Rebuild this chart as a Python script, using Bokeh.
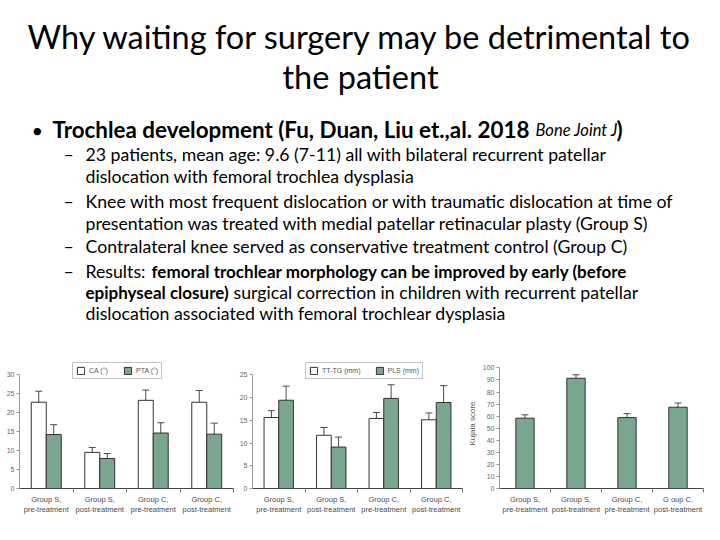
from bokeh.plotting import figure
from bokeh.layouts import column, row
from bokeh.models import (Range1d, FixedTicker, Whisker, TeeHead, Legend, LegendItem,
                          ColumnDataSource)
from bokeh.core.properties import value
from bokeh.embed import file_html
from bokeh.resources import INLINE
import numpy as np

# ---------------- data ----------------
categories = ["Group S,\npre-treatment", "Group S,\npost-treatment",
              "Group C,\npre-treatment", "Group C,\npost-treatment"]
categories3 = ["Group S,\npre-treatment", "Group S,\npost-treatment",
               "Group C,\npre-treatment", "G oup C,\npost-treatment"]

ca = [22.7, 9.5, 23.2, 22.7]
ca_err = [2.9, 1.3, 2.7, 3.1]
pta = [14.2, 7.9, 14.6, 14.3]
pta_err = [2.6, 1.3, 2.7, 2.9]

tttg = [15.6, 11.7, 15.4, 15.1]
tttg_err = [1.5, 1.7, 1.3, 1.5]
pls = [19.4, 9.1, 19.8, 18.9]
pls_err = [3.1, 2.2, 3.0, 3.7]

kujala = [58.3, 91.4, 58.8, 67.4]
kujala_err = [2.8, 2.9, 3.3, 3.5]

ticks1 = [0, 5, 10, 15, 20, 25, 30]
ticks2 = [0, 5, 10, 15, 20, 25]
ticks3 = [0, 10, 20, 30, 40, 50, 60, 70, 80, 90, 100]

title_lines = ["Why waiting for surgery may be detrimental to", "the patient"]

GREEN = "#7aa68f"
EDGE = "#333333"
ERR = "#4a4a4a"
FONT = "Liberation Sans"


def make_chart(width, bl, br, ytop, ybound, yticks, labels, series, bar_w,
               legend_labels=None, legend_x=53, ylabel=None):
    p = figure(width=width, height=179, x_range=Range1d(0, 4), y_range=Range1d(0, ytop),
               toolbar_location=None, output_backend="svg",
               min_border_left=bl, min_border_right=br, min_border_top=13,
               min_border_bottom=36)
    p.outline_line_color = None
    p.grid.visible = False
    idx = np.arange(len(labels)) + 0.5
    n = len(series)
    offsets = [(k - (n - 1) / 2) * bar_w for k in range(n)]
    renderers = []
    for k, (vals, errs, fill) in enumerate(series):
        xs = idx + offsets[k]
        src = ColumnDataSource(dict(x=xs, top=vals,
                                    up=[v + e for v, e in zip(vals, errs)],
                                    lo=[v - e for v, e in zip(vals, errs)]))
        r = p.vbar(x="x", top="top", width=bar_w, source=src, fill_color=fill,
                   line_color=EDGE, line_width=1)
        renderers.append(r)
        w = Whisker(source=src, base="x", upper="up", lower="lo", line_color=ERR,
                    line_width=1,
                    upper_head=TeeHead(size=7, line_color=ERR, line_width=1),
                    lower_head=TeeHead(size=7, line_color=ERR, line_width=1))
        p.add_layout(w)
    p.yaxis.ticker = FixedTicker(ticks=yticks)
    p.yaxis.bounds = (0, ybound)
    p.yaxis.axis_line_color = "#9a9a9a"
    p.yaxis.major_tick_line_color = "#9a9a9a"
    p.yaxis.major_tick_out = 3
    p.yaxis.major_tick_in = 0
    p.yaxis.minor_tick_line_color = None
    p.yaxis.major_label_text_font = FONT
    p.yaxis.major_label_text_font_size = "7px"
    p.yaxis.major_label_text_color = "#666666"
    p.yaxis.major_label_standoff = 2
    if ylabel:
        p.yaxis.axis_label = ylabel
        p.yaxis.axis_label_text_font = FONT
        p.yaxis.axis_label_text_font_size = "8px"
        p.yaxis.axis_label_text_font_style = "normal"
        p.yaxis.axis_label_text_color = "#555555"
        p.yaxis.axis_label_standoff = 3
    p.xaxis.ticker = FixedTicker(ticks=list(idx), minor_ticks=[1, 2, 3, 4])
    p.xaxis.major_label_overrides = {float(x): lab for x, lab in zip(idx, labels)}
    p.xaxis.axis_line_color = "#444444"
    p.xaxis.major_tick_line_color = None
    p.xaxis.major_tick_out = 0
    p.xaxis.major_tick_in = 0
    p.xaxis.minor_tick_line_color = "#777777"
    p.xaxis.minor_tick_out = 4
    p.xaxis.minor_tick_in = 0
    p.xaxis.major_label_text_font = FONT
    p.xaxis.major_label_text_font_size = "7.5px"
    p.xaxis.major_label_text_color = "#4a4a4a"
    p.xaxis.major_label_standoff = 2
    if legend_labels:
        items = [LegendItem(label=lab, renderers=[r]) for lab, r in zip(legend_labels, renderers)]
        leg = Legend(items=items, orientation="horizontal", location=(legend_x, 109),
                     border_line_color="#8a8a8a", border_line_width=1,
                     label_text_font=FONT, label_text_font_size="7px",
                     label_text_color="#555555", glyph_width=9, glyph_height=9,
                     padding=3, margin=0, spacing=14, label_standoff=4,
                     label_height=9, background_fill_color="white")
        p.add_layout(leg)
    return p


c1 = make_chart(236, 19, 3, 130 / 3.8, 30, ticks1, categories,
                [(ca, ca_err, "white"), (pta, pta_err, GREEN)], 0.28,
                legend_labels=["CA (°)", "PTA (°)"])
c2 = make_chart(228, 11, 2, 130 / 4.55, 25, ticks2, categories,
                [(tttg, tttg_err, "white"), (pls, pls_err, GREEN)], 0.28,
                legend_labels=["TT-TG (mm)", "PLS (mm)"])
c3 = make_chart(240, 25, 1, 130 / 1.206, 100, ticks3, categories3,
                [(kujala, kujala_err, GREEN)], 0.36, ylabel="Kujala score")

# ---------------- text part of the slide ----------------
tp = figure(width=704, height=345, x_range=Range1d(0, 704), y_range=Range1d(345, 0),
            x_axis_type=None, y_axis_type=None, toolbar_location=None,
            output_backend="svg", min_border=0)
tp.outline_line_color = None
tp.grid.visible = False

TF = "Lato"


def txt(x, y, s, size, style="normal", align="left", color="#000000"):
    tp.text(x=[x], y=[y], text=[s], text_font=value(TF), text_font_size=f"{size}px",
            text_font_style=style, text_align=align, text_baseline="alphabetic",
            text_color=color)


txt(360, 36, title_lines[0], 32.5, align="center")
txt(360, 76, title_lines[1], 32.5, align="center")

txt(31, 129, "\u2022", 20)
txt(52, 129, "Trochlea development (Fu, Duan, Liu et.,al. 2018", 22.4, "bold")
txt(535, 129, "Bone Joint J", 16.5, "italic")
txt(616, 129, ")", 22.4, "bold")

B2 = 17.7
BB = 17
dash_x = 63
sub = [
    (154, [("23 patients, mean age: 9.6 (7-11) all with bilateral recurrent patellar", 85, "normal")], True),
    (176, [("dislocation with femoral trochlea dysplasia", 85, "normal")], False),
    (201, [("Knee with most frequent dislocation or with traumatic dislocation at time of", 85, "normal")], True),
    (223, [("presentation was treated with medial patellar retinacular plasty (Group S)", 85, "normal")], False),
    (246, [("Contralateral knee served as conservative treatment control (Group C)", 85, "normal")], True),
    (271, [("Results:", 85, "normal"),
           ("femoral trochlear morphology can be improved by early (before", 151, "bold")], True),
    (292, [("epiphyseal closure)", 85, "bold"),
           ("surgical correction in children with recurrent patellar", 233, "normal")], False),
    (313, [("dislocation associated with femoral trochlear dysplasia", 85, "normal")], False),
]
for y, runs, dash in sub:
    if dash:
        txt(dash_x, y, "\u2013", B2)
    for s, x, st in runs:
        txt(x, y, s, BB if st == "bold" else B2, st)

layout = column(tp, row(c1, c2, c3, spacing=0), spacing=0)

with open("out.html", "w") as f:
    f.write(file_html(layout, INLINE))
